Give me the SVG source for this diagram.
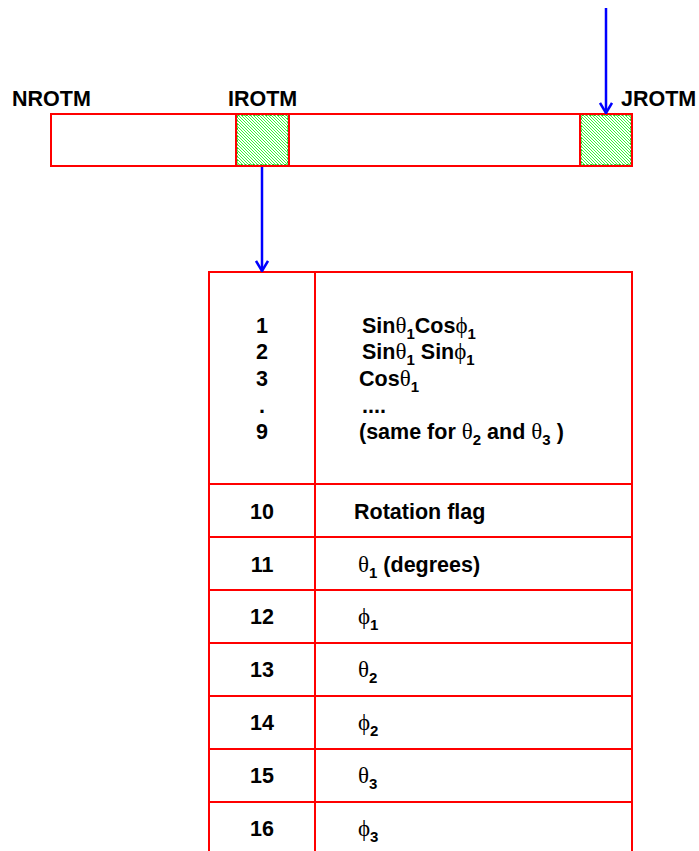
<svg xmlns="http://www.w3.org/2000/svg" width="699" height="851" viewBox="0 0 699 851">
<defs>
<pattern id="hatch" width="3" height="3" patternUnits="userSpaceOnUse">
<rect width="3" height="3" fill="#ffffff"/>
<path d="M-1,-1 L4,4 M-1,2 L1,4 M2,-1 L4,1" stroke="#33ff33" stroke-width="1"/>
</pattern>
<marker id="arr" viewBox="0 0 12 14" refX="11" refY="7" markerWidth="12" markerHeight="14" markerUnits="userSpaceOnUse" orient="auto">
<path d="M1,1 L11,7 L1,13" fill="none" stroke="#0000ff" stroke-width="2.5"/>
</marker>
<style>
.lbl{font-family:"Liberation Sans",Arial,sans-serif;font-weight:bold;font-size:21.5px;fill:#000}
.t{font-family:"Liberation Sans",Arial,sans-serif;font-weight:bold;font-size:21.5px;fill:#000}
.g{font-family:"Liberation Serif","DejaVu Serif",serif;font-weight:normal;font-size:23px}
.s{font-size:15px}
.red{fill:none;stroke:#ff0000;stroke-width:2}
.cell{fill:#ffffff;stroke:#ff0000;stroke-width:2}
.hat{fill:url(#hatch);stroke:#ff0000;stroke-width:2}
.inner{fill:none;stroke:#22cc22;stroke-width:1;stroke-dasharray:2 2}
.conn{stroke:#0000ff;stroke-width:2.5;fill:none}
</style>
</defs>
<rect width="699" height="851" fill="#ffffff"/>

<g id="array">
<rect class="cell" x="51" y="114" width="581" height="52"/>
<text class="lbl" x="12" y="106">NROTM</text>
</g>
<g id="irotm">
<rect class="hat" x="236" y="114" width="53" height="52"/>
<rect class="inner" x="237.5" y="115.5" width="50" height="49"/>
<text class="lbl" x="228" y="106">IROTM</text>
</g>
<g id="jrotm">
<rect class="hat" x="580" y="114" width="52" height="52"/>
<rect class="inner" x="581.5" y="115.5" width="49" height="49"/>
<text class="lbl" x="621" y="106">JROTM</text>
</g>

<g id="table">
<path class="red" d="M209,851 V272 H632 V851 M315,272 V851 M209,484 H632 M209,537 H632 M209,590 H632 M209,643 H632 M209,696 H632 M209,749 H632 M209,802 H632"/>
<g class="t" text-anchor="middle">
<text x="262" y="333">1</text>
<text x="262" y="359">2</text>
<text x="262" y="386">3</text>
<text x="262" y="413">.</text>
<text x="262" y="439">9</text>
<text x="262" y="519">10</text>
<text x="262" y="572">11</text>
<text x="262" y="624">12</text>
<text x="262" y="677">13</text>
<text x="262" y="730">14</text>
<text x="262" y="783">15</text>
<text x="262" y="836">16</text>
</g>
<text class="t" x="362" y="333">Sin<tspan class="g">θ</tspan><tspan class="s" dy="6">1</tspan><tspan dy="-6">Cos</tspan><tspan class="g">ϕ</tspan><tspan class="s" dy="6">1</tspan></text>
<text class="t" x="362" y="359">Sin<tspan class="g">θ</tspan><tspan class="s" dy="6">1</tspan><tspan dy="-6"> Sin</tspan><tspan class="g">ϕ</tspan><tspan class="s" dy="6">1</tspan></text>
<text class="t" x="359" y="386">Cos<tspan class="g">θ</tspan><tspan class="s" dy="6">1</tspan></text>
<text class="t" x="362" y="413">....</text>
<text class="t" x="359" y="439">(same for <tspan class="g">θ</tspan><tspan class="s" dy="6">2</tspan><tspan dy="-6"> and </tspan><tspan class="g">θ</tspan><tspan class="s" dy="6">3</tspan><tspan dy="-6"> )</tspan></text>
<text class="t" x="354" y="519">Rotation flag</text>
<text class="t" x="358" y="572"><tspan class="g">θ</tspan><tspan class="s" dy="6">1</tspan><tspan dy="-6"> (degrees)</tspan></text>
<text class="t" x="358" y="624"><tspan class="g">ϕ</tspan><tspan class="s" dy="6">1</tspan></text>
<text class="t" x="358" y="677"><tspan class="g">θ</tspan><tspan class="s" dy="6">2</tspan></text>
<text class="t" x="358" y="730"><tspan class="g">ϕ</tspan><tspan class="s" dy="6">2</tspan></text>
<text class="t" x="358" y="783"><tspan class="g">θ</tspan><tspan class="s" dy="6">3</tspan></text>
<text class="t" x="358" y="836"><tspan class="g">ϕ</tspan><tspan class="s" dy="6">3</tspan></text>
</g>

<g id="connectors">
<path class="conn" d="M262,167 V271" marker-end="url(#arr)"/>
<path class="conn" d="M606,8 V113" marker-end="url(#arr)"/>
</g>
</svg>
